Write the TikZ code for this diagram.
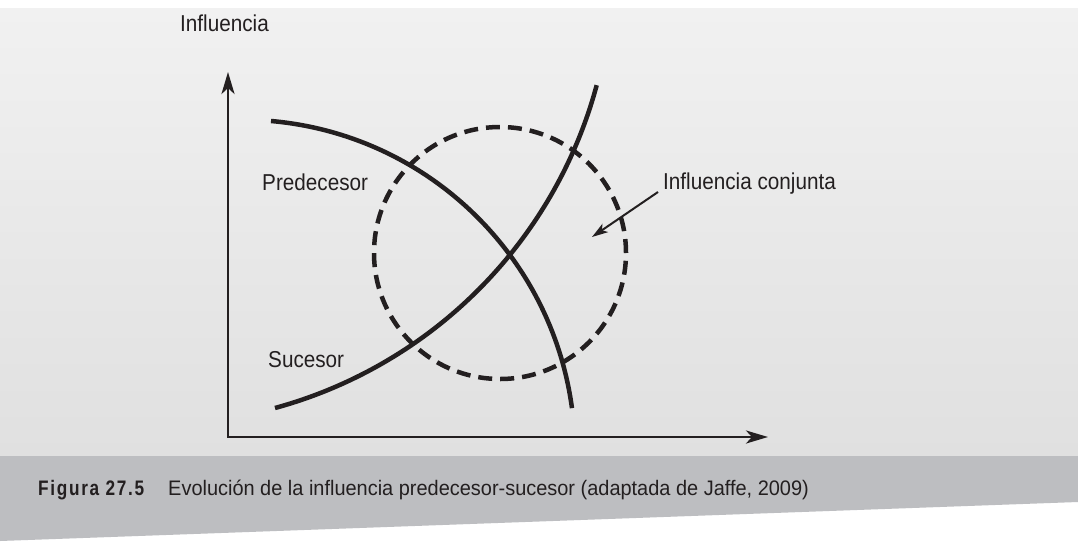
\documentclass[tikz,border=0pt]{standalone}
\usepackage{fontspec}
\setmainfont{Liberation Sans}
\newfontfamily\condfont{Liberation Sans}[FakeStretch=0.9]
\newfontfamily\capfont{Liberation Sans}[FakeStretch=0.95]
\newfontfamily\figfont{Liberation Sans}[FakeStretch=0.82,LetterSpace=8]
\usetikzlibrary{arrows.meta,positioning}
\definecolor{cTop}{HTML}{F1F1F1}
\definecolor{cLow}{HTML}{E0E0E0}
\definecolor{cBand}{HTML}{BDBEC1}
\definecolor{cInk}{HTML}{231F20}
\tikzset{
  axis/.style   ={line width=2.8pt, draw=cInk,
                  {Stealth[length=22pt,width=13pt,inset=6pt]}-{Stealth[length=22pt,width=13pt,inset=6pt]}},
  curve/.style  ={line width=4.5pt, draw=cInk},
  joint/.style  ={circle, line width=4.5pt, draw=cInk, dash pattern=on 14pt off 8pt,
                  minimum size=252pt, inner sep=0pt},
  lbl/.style    ={font=\condfont\fontsize{23}{26}\selectfont, text=cInk,
                  inner sep=0pt, anchor=base west},
  pointer/.style={line width=2pt, draw=cInk, -{Stealth[length=16pt,width=10pt,inset=4pt]}},
}

\begin{document}
\begin{tikzpicture}[x=1pt,y=-1pt]
  \useasboundingbox (0,0) rectangle (1078,541);
  \fill[white] (0,0) rectangle (1078,541);
  \shade[top color=cTop, bottom color=cLow] (0,8) rectangle (1078,456);
  \fill[cBand] (0,456) -- (1078,456) -- (1078,502) -- (0,541) -- cycle;

  \coordinate (orig) at (228,437);
  \coordinate (ytip) at (228,72);
  \coordinate (xtip) at (768,437);
  \draw[axis] (ytip) -- (orig) -- (xtip);

  \node[joint] (zone) at (500,253) {};
  \draw[curve] (271,121) arc[start angle=-85, end angle=-7.7, radius=333];
  \draw[curve] (275,408) arc[start angle=74.7, end angle=15.1, radius=458.5];

  \node[lbl] (infl) at (180,31)  {Influencia};
  \node[lbl] (pred) at (262,190) {Predecesor};
  \node[lbl] (suc)  at (268,367) {Sucesor};
  \node[lbl] (conj) at (663,189) {Influencia conjunta};
  \coordinate (conjtip) at (592,237);
  \draw[pointer] ([xshift=-5pt,yshift=-3pt]conj.base west) -- (conjtip);

  \node[anchor=base west, inner sep=0pt, text=cInk,
        font=\capfont\fontsize{21}{25}\selectfont] (cap) at (38,495)
        {{\figfont\bfseries Figura 27.5}\hspace{24pt}Evolución de la influencia predecesor-sucesor (adaptada de Jaffe, 2009)};
\end{tikzpicture}
\end{document}
